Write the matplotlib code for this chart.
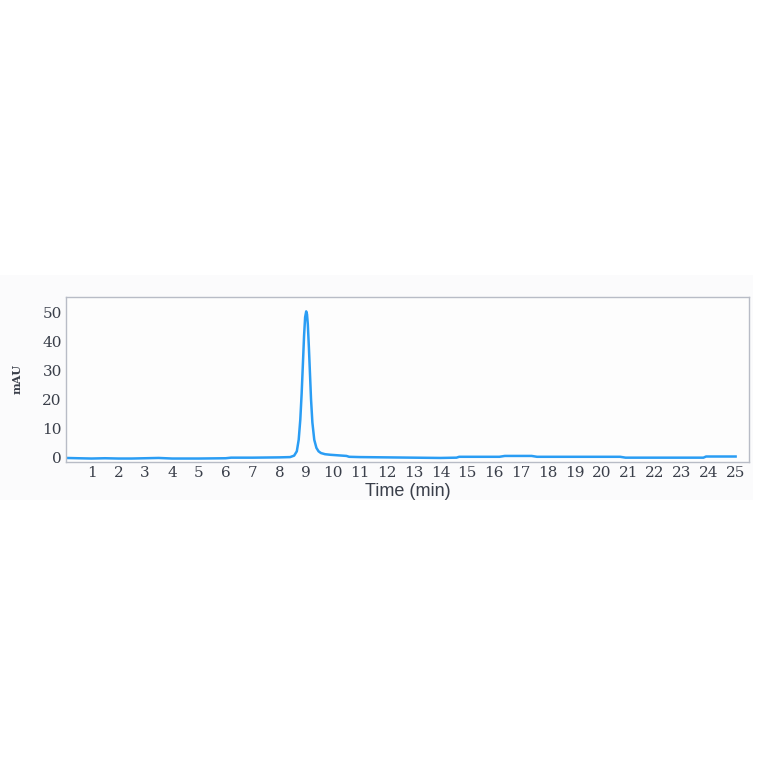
import matplotlib
matplotlib.use("Agg")
import matplotlib.pyplot as plt
from matplotlib.patches import Rectangle

time_min = [0.05, 0.5, 1.0, 1.5, 2.0, 2.5, 3.0, 3.5, 4.0, 5.0, 6.0, 6.2, 7.0, 8.0, 8.4,
            8.55, 8.65, 8.72, 8.78, 8.83, 8.88, 8.92, 8.96, 9.0, 9.03, 9.06, 9.1, 9.14,
            9.18, 9.23, 9.3, 9.38, 9.46, 9.55, 9.7, 9.9, 10.2, 10.5, 10.6, 11.0, 12.0,
            13.0, 14.0, 14.6, 14.7, 16.2, 16.4, 17.4, 17.6, 19.0, 20.7, 20.9, 22.0,
            23.0, 23.8, 23.9, 25.0]
absorbance = [-0.3, -0.4, -0.5, -0.4, -0.5, -0.5, -0.4, -0.3, -0.5, -0.5, -0.4, -0.2, -0.2, -0.1, 0.0,
              0.5, 2.0, 6.0, 13.0, 22.0, 33.0, 42.0, 48.5, 50.5, 49.5, 46.0, 38.0, 29.0,
              20.0, 12.0, 6.0, 3.2, 2.0, 1.4, 1.0, 0.8, 0.6, 0.4, 0.1, 0.0, -0.1,
              -0.2, -0.3, -0.2, 0.1, 0.1, 0.4, 0.4, 0.1, 0.1, 0.1, -0.2, -0.2,
              -0.2, -0.2, 0.2, 0.2]

x_ticks = list(range(1, 26))
y_ticks = [0, 10, 20, 30, 40, 50]

fig = plt.figure(figsize=(7.64, 7.64), dpi=100)
fig.patches.append(Rectangle((0.0, 0.345), 0.985, 0.295, transform=fig.transFigure,
                             facecolor="#fbfbfc", edgecolor="none", zorder=-1))
ax = fig.add_axes([0.0864, 0.3953, 0.894, 0.216])
ax.set_facecolor("#fdfdfd")
ax.plot(time_min, absorbance, color="#2a9df4", lw=1.8)
ax.set_xlim(0.05, 25.5)
ax.set_ylim(-1.7, 55.5)
ax.set_xticks(x_ticks)
ax.set_yticks(y_ticks)
ax.tick_params(length=0, labelsize=11, labelcolor="#3a3f4a", pad=3)
for lab in ax.get_xticklabels() + ax.get_yticklabels():
    lab.set_family("DejaVu Serif")
for s in ax.spines.values():
    s.set_color("#b8bcc6")
    s.set_linewidth(1.0)
ax.set_xlabel("Time (min)", family="Liberation Sans", fontsize=13, color="#3a3f4a", labelpad=2)
ax.set_ylabel("mAU", family="DejaVu Serif", fontsize=8, fontweight="bold", color="#3a3f4a", labelpad=14)
fig.savefig("out.png", dpi=100)
